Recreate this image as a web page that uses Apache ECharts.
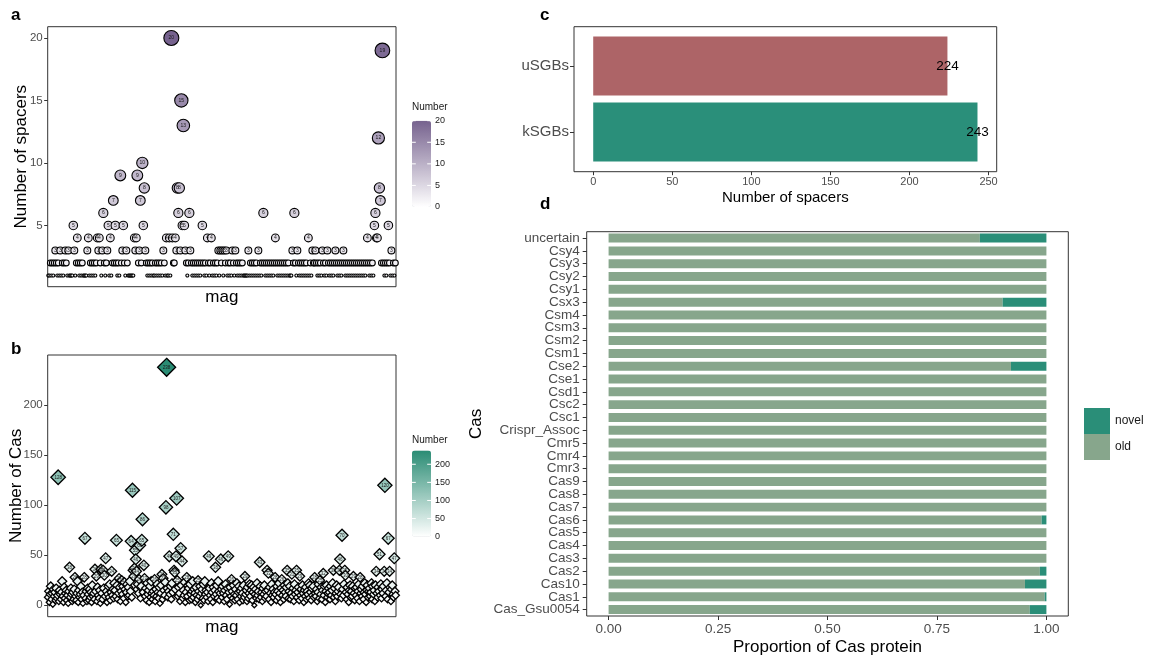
<!DOCTYPE html>
<html>
<head>
<meta charset="utf-8">
<title>Spacers and Cas per MAG</title>
<script src="https://cdn.jsdelivr.net/npm/echarts@6.0.0/dist/echarts.min.js"></script>
<style>
  html, body { margin: 0; padding: 0; background: #fff; }
  #chart { width: 1155px; height: 664px; }
</style>
</head>
<body>
<div id="chart"></div>
<script>
// a: number of spacers for each mag (in plot order)
const spacerCounts = [
  1,1,2,1,2,1,2,3,2,1,2,1,3,1,2,1,2,3,2,1,
  3,1,1,1,1,5,3,1,2,4,2,1,2,1,2,1,1,1,1,3,
  4,1,2,1,2,1,2,1,2,4,3,4,2,1,3,6,2,1,2,3,
  5,1,4,1,2,7,2,5,2,1,2,1,9,2,3,5,2,1,3,2,
  1,1,1,1,1,1,4,3,4,9,2,3,7,2,10,5,8,3,2,1,
  2,1,2,1,2,1,1,2,1,2,1,2,1,2,1,3,2,1,4,1,
  1,4,1,20,4,2,2,4,3,8,6,8,3,15,5,13,5,3,2,1,
  2,6,3,2,1,2,1,2,1,2,1,2,1,2,5,2,1,2,1,4,
  2,1,2,4,1,2,1,2,1,2,3,1,3,2,3,1,3,2,3,1,
  2,1,2,1,3,2,1,3,2,1,2,1,2,1,2,1,1,1,1,1,
  3,1,2,1,2,1,2,1,2,1,3,1,2,1,2,6,2,1,2,1,
  2,1,2,1,2,1,2,4,2,1,2,1,2,1,2,1,2,1,2,1,
  2,1,1,1,3,2,6,2,1,3,2,1,2,1,2,1,2,1,2,1,
  4,1,2,1,3,2,2,3,2,1,2,1,2,1,3,2,1,2,1,3,
  2,1,2,1,2,1,2,3,2,1,2,1,2,1,2,3,2,1,2,1,
  2,1,2,1,2,1,2,1,2,1,2,1,2,1,2,1,2,1,2,4,
  2,1,2,1,2,1,5,6,4,4,12,8,7,2,19,2,1,2,1,2,5,2,1,3,1,2,1,2
];
const spacerTicks = [5, 10, 15, 20];
const spacerLegendTicks = [0, 5, 10, 15, 20];

// b: number of Cas proteins for each mag
const casCounts = [
  8,14,3,11,19,6,12,1,16,9,13,5,17,7,10,128,4,15,11,6,
  13,24,9,3,18,7,12,15,5,10,2,14,38,8,17,11,4,13,6,16,
  28,9,5,12,24,3,15,8,11,19,6,13,2,10,28,67,7,14,4,17,
  11,5,16,8,13,3,20,9,12,6,36,14,29,4,18,10,7,15,2,36,
  12,6,35,17,30,9,47,14,3,11,19,8,21,5,13,34,10,16,7,22,
  15,9,65,20,6,12,27,18,4,14,25,11,19,7,23,16,3,13,21,9,
  18,10,24,14,64,8,115,35,29,37,55,46,34,16,21,12,26,60,7,19,
  65,86,13,40,27,9,17,5,22,11,15,3,19,8,24,12,6,14,10,26,
  4,16,9,21,13,7,18,2,12,20,31,6,27,15,10,23,98,238,17,8,
  14,49,11,19,6,22,13,71,35,33,16,49,107,25,9,18,12,4,57,20,
  44,7,15,10,23,3,13,28,9,20,17,5,21,11,6,14,24,8,16,12,
  3,18,10,6,25,14,9,19,0,12,16,7,21,5,24,11,15,8,13,4,
  49,17,10,6,22,13,3,18,9,15,38,11,20,7,24,14,5,12,46,16,
  8,19,12,4,15,21,10,6,17,49,13,1,18,9,26,14,7,20,11,5,
  16,10,22,6,13,19,3,14,9,17,12,5,20,8,29,11,15,4,18,7,
  12,21,9,15,20,5,13,18,0,11,16,7,22,10,14,6,43,19,8,13,
  4,17,11,20,7,14,9,35,15,32,6,18,12,3,21,10,16,8,13,28,
  11,5,19,14,8,22,12,3,17,26,10,15,6,20,13,9,18,35,22,7,
  14,19,6,12,31,9,17,4,21,11,15,35,8,13,18,5,29,10,16,7,
  20,12,3,15,9,18,6,14,11,22,7,20,13,5,17,10,19,8,28,12,
  9,16,4,13,21,7,25,11,18,6,15,32,10,19,3,14,20,8,12,17,
  13,6,19,10,15,22,35,8,17,4,12,20,9,14,18,35,46,11,7,70,
  16,10,21,35,30,13,6,18,11,3,15,20,8,14,9,19,29,12,5,17,
  10,18,7,14,21,4,28,12,16,9,19,6,13,22,11,3,15,20,8,14,
  17,9,13,22,6,19,11,15,4,20,34,12,8,18,14,51,10,21,7,16,
  12,19,34,120,9,15,22,6,67,13,34,18,4,16,20,11,8,47,14,10
];
const casTicks = [0, 50, 100, 150, 200];
const casLegendTicks = [0, 50, 100, 150, 200];

// c: spacers by SGB type
const sgbGroups = ['kSGBs', 'uSGBs'];
const sgbSpacers = [243, 224];
const sgbColors = ['#2A8F7A', '#AD6467'];
const spacerAxisTicks = [0, 50, 100, 150, 200, 250];

// d: proportion of novel / old Cas protein (bottom to top)
const casTypes = ['Cas_Gsu0054', 'Cas1', 'Cas10', 'Cas2', 'Cas3', 'Cas4', 'Cas5', 'Cas6', 'Cas7',
  'Cas8', 'Cas9', 'Cmr3', 'Cmr4', 'Cmr5', 'Crispr_Assoc', 'Csc1', 'Csc2', 'Csd1', 'Cse1', 'Cse2',
  'Csm1', 'Csm2', 'Csm3', 'Csm4', 'Csx3', 'Csy1', 'Csy2', 'Csy3', 'Csy4', 'uncertain'];
const oldShare = [0.962, 0.996, 0.951, 0.985, 1, 1, 1, 0.989, 1, 1, 1, 1, 1, 1, 1, 1, 1, 1, 1, 0.919,
  1, 1, 1, 1, 0.90, 1, 1, 1, 1, 0.848];
const novelShare = [0.038, 0.004, 0.049, 0.015, 0, 0, 0, 0.011, 0, 0, 0, 0, 0, 0, 0, 0, 0, 0, 0, 0.081,
  0, 0, 0, 0, 0.10, 0, 0, 0, 0, 0.152];
const shareTicks = [0, 0.25, 0.5, 0.75, 1];

const FONT = '"Liberation Sans", Arial, Helvetica, sans-serif';
const GREY = '#4d4d4d';
const FRAME = '#333333';

const chart = echarts.init(document.getElementById('chart'));

function panelLetter(t, x, y) {
  return { type: 'text', x: x, y: y, style: { text: t, fill: '#000', fontSize: 17, fontWeight: 'bold', fontFamily: FONT, align: 'left', verticalAlign: 'middle' } };
}

// colourbar legends (ticks + labels)
function barLegend(ticks, max, bottom, height) {
  const out = [];
  ticks.forEach(function (v) {
    const y = bottom - v / max * height;
    out.push({ type: 'text', x: 435, y: y, style: { text: String(v), fill: '#1a1a1a', fontSize: 9, fontFamily: FONT, align: 'left', verticalAlign: 'middle' } });
    if (v > 0) {
      out.push({ type: 'line', shape: { x1: 412, y1: y, x2: 415.8, y2: y }, style: { stroke: '#fff', lineWidth: 1 }, z: 100 });
      out.push({ type: 'line', shape: { x1: 427.2, y1: y, x2: 431, y2: y }, style: { stroke: '#fff', lineWidth: 1 }, z: 100 });
    }
  });
  return out;
}

const graphics = [
  panelLetter('a', 11, 15.5),
  panelLetter('b', 11, 349),
  panelLetter('c', 540, 15.5),
  panelLetter('d', 540, 204.5),
  { type: 'text', x: 412, y: 107.5, style: { text: 'Number', fill: '#1a1a1a', fontSize: 10, fontFamily: FONT, verticalAlign: 'middle' } },
  { type: 'text', x: 412, y: 440, style: { text: 'Number', fill: '#1a1a1a', fontSize: 10, fontFamily: FONT, verticalAlign: 'middle' } },
  { type: 'rect', shape: { x: 574, y: 26.7, width: 422.7, height: 145 }, style: { fill: 'none', stroke: FRAME, lineWidth: 1 } }
].concat(barLegend(spacerLegendTicks, 20, 207, 86.3), barLegend(casLegendTicks, 238, 536.7, 86.2));

const noLine = { show: false, onZero: false };

const option = {
  animation: false,
  textStyle: { fontFamily: FONT },
  grid: [
    { left: 47.7, top: 26.7, width: 348.3, height: 260, show: true, borderColor: FRAME, borderWidth: 1, outerBoundsMode: 'none' },
    { left: 47.7, top: 355, width: 348.3, height: 261.7, show: true, borderColor: FRAME, borderWidth: 1, outerBoundsMode: 'none' },
    { left: 574, top: 33, width: 422.7, height: 132, outerBoundsMode: 'none' },
    { left: 586.7, top: 231.7, width: 481.6, height: 384.3, show: true, borderColor: FRAME, borderWidth: 1, outerBoundsMode: 'none' }
  ],
  xAxis: [
    {
      gridIndex: 0, type: 'value', min: -0.6, max: spacerCounts.length - 0.4,
      axisLine: noLine, axisTick: { show: false }, axisLabel: { show: false }, splitLine: { show: false },
      name: 'mag', nameLocation: 'middle', nameGap: 2, nameMoveOverlap: false,
      nameTextStyle: { fontSize: 17, color: '#000' }
    },
    {
      gridIndex: 1, type: 'value', min: -0.6, max: casCounts.length - 0.4,
      axisLine: noLine, axisTick: { show: false }, axisLabel: { show: false }, splitLine: { show: false },
      name: 'mag', nameLocation: 'middle', nameGap: 2, nameMoveOverlap: false,
      nameTextStyle: { fontSize: 17, color: '#000' }
    },
    {
      gridIndex: 2, type: 'value', min: -12.15, max: 255.15, offset: 6.7,
      axisLine: noLine,
      axisTick: { show: true, length: 3.5, lineStyle: { color: FRAME }, customValues: spacerAxisTicks },
      axisLabel: { customValues: spacerAxisTicks, fontSize: 11, color: GREY, margin: 5 },
      splitLine: { show: false },
      name: 'Number of spacers', nameLocation: 'middle', nameGap: 19, nameMoveOverlap: false,
      nameTextStyle: { fontSize: 15, color: '#000' }
    },
    {
      gridIndex: 3, type: 'value', min: -0.05, max: 1.05,
      axisLine: noLine,
      axisTick: { show: true, length: 4, lineStyle: { color: FRAME }, customValues: shareTicks },
      axisLabel: { customValues: shareTicks, fontSize: 13.5, color: GREY, margin: 6, formatter: function (v) { return v.toFixed(2); } },
      splitLine: { show: false },
      name: 'Proportion of Cas protein', nameLocation: 'middle', nameGap: 23, nameMoveOverlap: false,
      nameTextStyle: { fontSize: 17, color: '#000' }
    }
  ],
  yAxis: [
    {
      gridIndex: 0, type: 'value', min: 0.1, max: 20.9,
      axisLine: noLine,
      axisTick: { show: true, length: 3.5, lineStyle: { color: FRAME }, customValues: spacerTicks },
      axisLabel: { customValues: spacerTicks, fontSize: 11.5, color: GREY, margin: 5 },
      splitLine: { show: false },
      name: 'Number of spacers', nameLocation: 'middle', nameGap: 18, nameMoveOverlap: false,
      nameTextStyle: { fontSize: 17, color: '#000' }
    },
    {
      gridIndex: 1, type: 'value', min: -11.4, max: 250.3,
      axisLine: noLine,
      axisTick: { show: true, length: 3.5, lineStyle: { color: FRAME }, customValues: casTicks },
      axisLabel: { customValues: casTicks, fontSize: 11.5, color: GREY, margin: 5 },
      splitLine: { show: false },
      name: 'Number of Cas', nameLocation: 'middle', nameGap: 23, nameMoveOverlap: false,
      nameTextStyle: { fontSize: 17, color: '#000' }
    },
    {
      gridIndex: 2, type: 'category', data: sgbGroups,
      axisLine: noLine,
      axisTick: { show: true, length: 4, alignWithLabel: true, lineStyle: { color: FRAME } },
      axisLabel: { fontSize: 15, color: GREY, margin: 5 }
    },
    {
      gridIndex: 3, type: 'category', data: casTypes,
      axisLine: noLine,
      axisTick: { show: true, length: 4, alignWithLabel: true, lineStyle: { color: FRAME } },
      axisLabel: { interval: 0, fontSize: 13.5, color: GREY, margin: 7 },
      name: 'Cas', nameLocation: 'middle', nameGap: 102, nameMoveOverlap: false,
      nameTextStyle: { fontSize: 17, color: '#000' }
    }
  ],
  visualMap: [
    {
      type: 'continuous', seriesIndex: 0, dimension: 1, min: 0, max: 20,
      inRange: { color: ['#ffffff', '#76628E'] },
      orient: 'vertical', left: 412, top: 120.7, itemWidth: 19, itemHeight: 86.3,
      calculable: false, padding: 0, hoverLink: false
    },
    {
      type: 'continuous', seriesIndex: 1, dimension: 1, min: 0, max: 238,
      inRange: { color: ['#ffffff', '#2A8C74'] },
      orient: 'vertical', left: 412, top: 450.5, itemWidth: 19, itemHeight: 86.2,
      calculable: false, padding: 0, hoverLink: false
    }
  ],
  legend: {
    data: ['novel', 'old'], orient: 'vertical', left: 1084, top: 408,
    itemWidth: 26, itemHeight: 26, itemGap: 0, icon: 'rect', padding: 0,
    selectedMode: false, textStyle: { fontSize: 12, color: '#1a1a1a' }
  },
  series: [
    {
      type: 'scatter', xAxisIndex: 0, yAxisIndex: 0,
      data: spacerCounts.map(function (v, i) { return [i, v]; }),
      symbol: 'circle',
      symbolSize: function (d) { return 3 + 12 * Math.sqrt((d[1] - 1) / 19); },
      itemStyle: { borderColor: '#000', borderWidth: 1.1, opacity: 1 },
      label: {
        show: true, position: 'inside', fontSize: 5, color: '#1a1a1a',
        formatter: function (p) { return p.value[1] >= 3 ? String(p.value[1]) : ''; }
      }
    },
    {
      type: 'scatter', xAxisIndex: 1, yAxisIndex: 1,
      data: casCounts.map(function (v, i) { return [i, v]; }),
      symbol: 'diamond',
      symbolSize: function (d) { return 5 + 13 * Math.sqrt(d[1] / 238); },
      itemStyle: { borderColor: '#000', borderWidth: 1.3, opacity: 1 },
      label: {
        show: true, position: 'inside', fontSize: 4.5, color: '#1a1a1a',
        formatter: function (p) { return p.value[1] >= 25 ? String(p.value[1]) : ''; }
      }
    },
    {
      type: 'bar', xAxisIndex: 2, yAxisIndex: 2, barWidth: 59,
      data: sgbSpacers.map(function (v, i) { return { value: v, itemStyle: { color: sgbColors[i] } }; }),
      label: { show: true, position: 'insideRight', distance: 0, align: 'center', fontSize: 13.5, color: '#000' }
    },
    {
      name: 'old', type: 'bar', stack: 'share', xAxisIndex: 3, yAxisIndex: 3, barWidth: '70%',
      itemStyle: { color: '#87A68C' }, data: oldShare
    },
    {
      name: 'novel', type: 'bar', stack: 'share', xAxisIndex: 3, yAxisIndex: 3, barWidth: '70%',
      itemStyle: { color: '#2A8E78' }, data: novelShare
    }
  ],
  graphic: graphics
};

chart.setOption(option);
</script>
</body>
</html>
